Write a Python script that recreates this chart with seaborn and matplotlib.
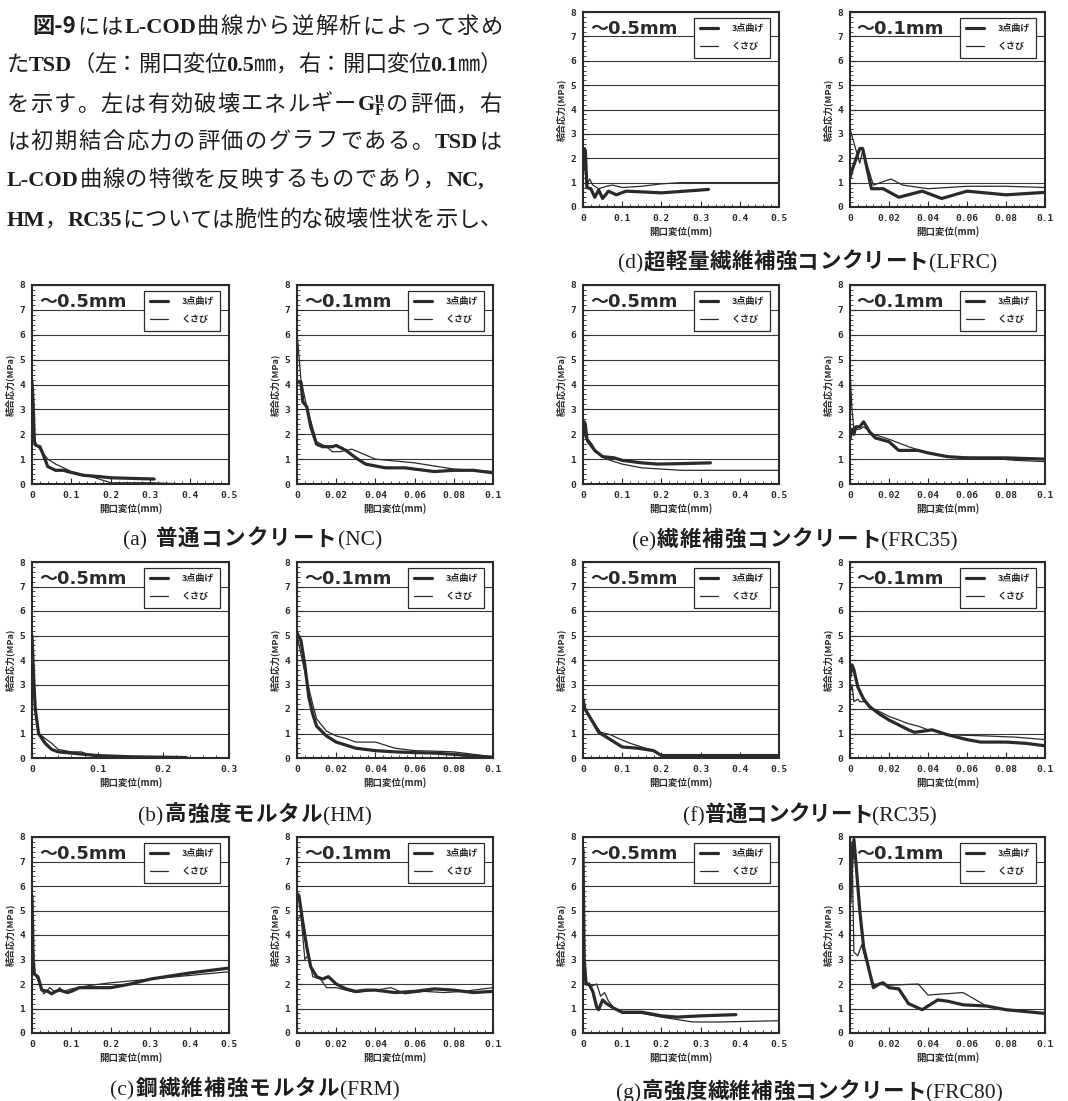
import re
import matplotlib
matplotlib.use('Agg')
import matplotlib.pyplot as plt
import seaborn as sns
from matplotlib.ticker import MultipleLocator, FuncFormatter

# ---- data (x: 開口変位 mm, y: 結合応力 MPa) ----
# (d) LFRC
lfrc05_3pt_x = [0, 0.003, 0.006, 0.01, 0.02, 0.03, 0.04, 0.05, 0.065, 0.085, 0.11, 0.15, 0.2, 0.26, 0.32]
lfrc05_3pt_y = [1.5, 2.4, 2.3, 0.8, 0.75, 0.4, 0.7, 0.35, 0.65, 0.5, 0.65, 0.62, 0.58, 0.65, 0.72]
lfrc05_wdg_x = [0, 0.004, 0.01, 0.017, 0.025, 0.04, 0.06, 0.075, 0.1, 0.15, 0.2, 0.25, 0.5]
lfrc05_wdg_y = [2.4, 1.8, 0.9, 1.15, 0.9, 0.75, 0.85, 0.9, 0.8, 0.85, 0.95, 1.0, 1.0]
lfrc01_3pt_x = [0, 0.001, 0.005, 0.0065, 0.011, 0.017, 0.025, 0.037, 0.047, 0.06, 0.08, 0.1]
lfrc01_3pt_y = [1.2, 1.5, 2.4, 2.4, 0.75, 0.75, 0.4, 0.65, 0.35, 0.65, 0.5, 0.6]
lfrc01_wdg_x = [0, 0.005, 0.0065, 0.012, 0.021, 0.027, 0.04, 0.06, 0.08, 0.1]
lfrc01_wdg_y = [3.2, 1.8, 2.3, 0.9, 1.15, 0.9, 0.75, 0.85, 0.85, 0.8]

# (a) NC
nc05_3pt_x = [0, 0.003, 0.006, 0.01, 0.02, 0.028, 0.04, 0.06, 0.08, 0.09, 0.13, 0.17, 0.2, 0.31]
nc05_3pt_y = [4.1, 3.2, 1.7, 1.55, 1.5, 1.2, 0.7, 0.55, 0.55, 0.5, 0.35, 0.3, 0.25, 0.2]
nc05_wdg_x = [0, 0.005, 0.01, 0.025, 0.04, 0.06, 0.1, 0.15, 0.2, 0.3, 0.4]
nc05_wdg_y = [4.0, 2.0, 1.6, 1.3, 1.0, 0.8, 0.5, 0.3, 0.05, 0.05, 0.0]
nc01_3pt_x = [0, 0.002, 0.003, 0.005, 0.007, 0.01, 0.013, 0.018, 0.02, 0.025, 0.03, 0.035, 0.045, 0.055, 0.07, 0.08, 0.09, 0.1]
nc01_3pt_y = [4.1, 4.1, 3.3, 3.1, 2.3, 1.6, 1.5, 1.5, 1.55, 1.35, 1.05, 0.8, 0.65, 0.65, 0.5, 0.55, 0.55, 0.45]
nc01_wdg_x = [0, 0.002, 0.005, 0.01, 0.015, 0.018, 0.022, 0.028, 0.04, 0.06, 0.08, 0.1]
nc01_wdg_y = [6.1, 4.2, 3.1, 1.7, 1.5, 1.3, 1.3, 1.4, 1.0, 0.85, 0.6, 0.5]

# (e) FRC35
frc35_05_3pt_x = [0, 0.003, 0.006, 0.01, 0.02, 0.03, 0.05, 0.08, 0.1, 0.15, 0.19, 0.25, 0.325]
frc35_05_3pt_y = [1.9, 2.5, 2.4, 1.8, 1.6, 1.35, 1.1, 1.05, 0.95, 0.85, 0.8, 0.82, 0.85]
frc35_05_wdg_x = [0, 0.01, 0.03, 0.06, 0.1, 0.15, 0.2, 0.25, 0.3, 0.5]
frc35_05_wdg_y = [2.3, 1.7, 1.3, 1.0, 0.8, 0.65, 0.6, 0.55, 0.55, 0.55]
frc35_01_3pt_x = [0, 0.001, 0.002, 0.003, 0.005, 0.007, 0.01, 0.013, 0.02, 0.025, 0.035, 0.04, 0.05, 0.06, 0.08, 0.1]
frc35_01_3pt_y = [1.8, 2.2, 2.0, 2.3, 2.3, 2.5, 2.1, 1.85, 1.7, 1.35, 1.35, 1.25, 1.1, 1.05, 1.05, 1.0]
frc35_01_wdg_x = [0, 0.001, 0.002, 0.005, 0.007, 0.012, 0.02, 0.03, 0.04, 0.05, 0.07, 0.085, 0.1]
frc35_01_wdg_y = [4.6, 3.0, 2.2, 2.2, 2.3, 2.0, 1.8, 1.5, 1.25, 1.1, 1.05, 0.95, 0.9]

# (b) HM
hm03_3pt_x = [0, 0.003, 0.005, 0.01, 0.02, 0.03, 0.04, 0.06, 0.08, 0.1, 0.15, 0.235]
hm03_3pt_y = [5.0, 3.0, 2.0, 1.0, 0.6, 0.35, 0.25, 0.2, 0.15, 0.1, 0.05, 0.02]
hm03_wdg_x = [0, 0.005, 0.01, 0.02, 0.025, 0.03, 0.04, 0.06, 0.075, 0.09, 0.1, 0.2, 0.24]
hm03_wdg_y = [5.1, 2.1, 1.0, 0.8, 0.7, 0.6, 0.35, 0.25, 0.25, 0.1, 0.05, 0.02, 0.0]
hm01_3pt_x = [0, 0.002, 0.004, 0.006, 0.008, 0.01, 0.015, 0.02, 0.03, 0.04, 0.05, 0.06, 0.07, 0.08, 0.09, 0.1]
hm01_3pt_y = [5.1, 4.8, 3.8, 2.5, 1.8, 1.3, 0.9, 0.65, 0.4, 0.3, 0.25, 0.22, 0.2, 0.15, 0.08, 0.03]
hm01_wdg_x = [0, 0.004, 0.008, 0.01, 0.015, 0.02, 0.025, 0.03, 0.04, 0.05, 0.06, 0.07, 0.08, 0.09, 0.1]
hm01_wdg_y = [5.0, 3.5, 2.2, 1.6, 1.1, 0.9, 0.8, 0.65, 0.65, 0.4, 0.3, 0.28, 0.25, 0.15, 0.05]

# (f) RC35
rc35_05_3pt_x = [0, 0.005, 0.02, 0.04, 0.06, 0.08, 0.1, 0.14, 0.18, 0.2, 0.3, 0.4, 0.5]
rc35_05_3pt_y = [2.4, 2.0, 1.6, 1.05, 0.85, 0.65, 0.45, 0.4, 0.3, 0.1, 0.1, 0.1, 0.1]
rc35_05_wdg_x = [0, 0.01, 0.03, 0.045, 0.07, 0.09, 0.12, 0.15, 0.18, 0.2, 0.5]
rc35_05_wdg_y = [2.2, 1.9, 1.4, 1.05, 0.95, 0.8, 0.6, 0.45, 0.3, 0.12, 0.12]
rc35_01_3pt_x = [0, 0.001, 0.002, 0.004, 0.007, 0.01, 0.015, 0.02, 0.025, 0.03, 0.033, 0.038, 0.042, 0.05, 0.06, 0.067, 0.08, 0.09, 0.1]
rc35_01_3pt_y = [3.3, 3.8, 3.6, 2.9, 2.4, 2.1, 1.8, 1.55, 1.35, 1.15, 1.05, 1.1, 1.15, 0.95, 0.75, 0.65, 0.65, 0.6, 0.5]
rc35_01_wdg_x = [0, 0.001, 0.002, 0.004, 0.005, 0.008, 0.01, 0.015, 0.02, 0.03, 0.035, 0.04, 0.045, 0.05, 0.07, 0.085, 0.1]
rc35_01_wdg_y = [2.6, 3.0, 2.3, 2.4, 2.3, 2.3, 2.05, 1.9, 1.7, 1.4, 1.3, 1.15, 1.1, 0.95, 0.9, 0.85, 0.75]

# (c) FRM
frm05_3pt_x = [0, 0.003, 0.006, 0.015, 0.025, 0.04, 0.05, 0.06, 0.07, 0.09, 0.1, 0.12, 0.15, 0.2, 0.25, 0.3, 0.4, 0.5]
frm05_3pt_y = [5.6, 3.0, 2.4, 2.3, 1.75, 1.7, 1.6, 1.7, 1.75, 1.65, 1.7, 1.85, 1.85, 1.85, 2.0, 2.2, 2.45, 2.65]
frm05_wdg_x = [0, 0.005, 0.02, 0.03, 0.045, 0.06, 0.07, 0.08, 0.1, 0.15, 0.2, 0.3, 0.4, 0.5]
frm05_wdg_y = [5.5, 2.5, 2.0, 1.6, 1.85, 1.65, 1.85, 1.7, 1.8, 1.95, 2.05, 2.2, 2.35, 2.5]
frm01_3pt_x = [0, 0.001, 0.003, 0.005, 0.007, 0.01, 0.013, 0.016, 0.02, 0.025, 0.03, 0.035, 0.04, 0.045, 0.05, 0.06, 0.07, 0.08, 0.09, 0.1]
frm01_3pt_y = [5.7, 5.6, 4.5, 3.5, 2.7, 2.3, 2.2, 2.3, 2.0, 1.8, 1.7, 1.75, 1.75, 1.7, 1.65, 1.7, 1.8, 1.75, 1.65, 1.7]
frm01_wdg_x = [0, 0.002, 0.004, 0.006, 0.008, 0.012, 0.015, 0.02, 0.025, 0.03, 0.04, 0.048, 0.055, 0.065, 0.075, 0.085, 0.095, 0.1]
frm01_wdg_y = [4.6, 4.8, 3.0, 3.2, 2.3, 2.2, 1.85, 1.85, 1.75, 1.65, 1.75, 1.85, 1.6, 1.7, 1.65, 1.7, 1.8, 1.85]

# (g) FRC80
frc80_05_3pt_x = [0, 0.003, 0.008, 0.015, 0.025, 0.035, 0.04, 0.05, 0.06, 0.08, 0.1, 0.15, 0.2, 0.24, 0.3, 0.39]
frc80_05_3pt_y = [7.5, 3.0, 2.0, 2.0, 1.7, 1.05, 0.95, 1.35, 1.2, 1.0, 0.85, 0.85, 0.7, 0.65, 0.7, 0.75]
frc80_05_wdg_x = [0, 0.005, 0.02, 0.035, 0.045, 0.055, 0.065, 0.08, 0.1, 0.15, 0.2, 0.28, 0.35, 0.5]
frc80_05_wdg_y = [7.0, 2.0, 1.9, 2.0, 1.5, 1.65, 1.3, 1.0, 0.8, 0.8, 0.65, 0.45, 0.45, 0.5]
frc80_01_3pt_x = [0, 0.001, 0.002, 0.003, 0.005, 0.007, 0.01, 0.012, 0.015, 0.017, 0.02, 0.025, 0.03, 0.037, 0.045, 0.05, 0.058, 0.07, 0.08, 0.1]
frc80_01_3pt_y = [5.3, 7.0, 7.9, 7.0, 5.0, 3.5, 2.5, 1.85, 2.0, 2.05, 1.85, 1.8, 1.2, 0.95, 1.35, 1.3, 1.15, 1.1, 0.95, 0.8]
frc80_01_wdg_x = [0, 0.001, 0.002, 0.004, 0.006, 0.008, 0.012, 0.02, 0.035, 0.04, 0.058, 0.07, 0.08, 0.1]
frc80_01_wdg_y = [6.0, 7.8, 3.3, 3.15, 3.6, 3.0, 2.0, 1.95, 2.0, 1.55, 1.65, 1.1, 0.95, 0.8]

series_labels = ['3点曲げ', 'くさび']

paragraph = [
    [('図-9', 'head'), ('にはL-COD曲線から逆解析によって求め', 'body')],
    [('たTSD（左：開口変位0.5㎜，右：開口変位0.1㎜）', 'body')],
    [('を示す。左は有効破壊エネルギー$\\mathregular{G_F^u}$の評価，右', 'body')],
    [('は初期結合応力の評価のグラフである。TSDは', 'body')],
    [('L-COD曲線の特徴を反映するものであり，NC,', 'body')],
    [('HM，RC35については脆性的な破壊性状を示し、', 'body')],
]

captions = ['(d)超軽量繊維補強コンクリート(LFRC)', '(a) 普通コンクリート(NC)',
            '(e)繊維補強コンクリート(FRC35)', '(b)高強度モルタル(HM)',
            '(f)普通コンクリート(RC35)', '(c)鋼繊維補強モルタル(FRM)',
            '(g)高強度繊維補強コンクリート(FRC80)']

# ---- style ----
sns.set_style('white')
plt.rcParams['font.family'] = ['Noto Sans CJK JP', 'DejaVu Sans']
plt.rcParams['axes.unicode_minus'] = False

INK = '#2a2a2a'
JP = ['Noto Sans CJK JP', 'DejaVu Sans']
SERIF = ['Liberation Serif', 'Noto Sans CJK JP']
TAG_FONT = ['DejaVu Sans', 'Noto Sans CJK JP']
W, H = 1068, 1101

fig = plt.figure(figsize=(W / 100, H / 100), dpi=100)
fig.patch.set_facecolor('white')
renderer = fig.canvas.get_renderer()


def add_ax(x, top, w, h):
    return fig.add_axes([x / W, 1 - (top + h) / H, w / W, h / H])


def xfmt(v, pos):
    return '0' if abs(v) < 1e-9 else f'{v:.2f}'.rstrip('0')


def draw_panel(ax, xmax, tag, x3, y3, xw, yw):
    sns.lineplot(x=x3, y=y3, ax=ax, color=INK, lw=2.3, sort=False, estimator=None, label=series_labels[0])
    sns.lineplot(x=xw, y=yw, ax=ax, color=INK, lw=0.9, sort=False, estimator=None, label=series_labels[1])
    ax.set_xlim(0, xmax)
    ax.set_ylim(0, 8)
    ax.xaxis.set_major_locator(MultipleLocator(0.1 if xmax > 0.1 else 0.02))
    ax.xaxis.set_minor_locator(MultipleLocator(0.02 if xmax > 0.1 else 0.004))
    ax.xaxis.set_major_formatter(FuncFormatter(xfmt))
    ax.yaxis.set_major_locator(MultipleLocator(1))
    ax.yaxis.set_minor_locator(MultipleLocator(0.2))
    ax.grid(axis='y', color='#3a3a3a', lw=0.8)
    ax.tick_params(which='both', direction='in', color=INK, bottom=True, left=True)
    ax.tick_params(which='major', length=4, width=0.8, labelsize=6.8, pad=5, labelcolor=INK)
    ax.tick_params(which='minor', length=2, width=0.6)
    for lab in ax.get_xticklabels() + ax.get_yticklabels():
        lab.set_fontfamily('DejaVu Sans Mono')
        lab.set_fontweight('bold')
    for s in ax.spines.values():
        s.set_visible(True)
        s.set_linewidth(1.5)
        s.set_color(INK)
    ax.set_ylabel('結合応力(MPa)', fontsize=6.5, fontweight='bold', labelpad=3, color=INK)
    ax.set_xlabel('開口変位(mm)', fontsize=6.8, fontweight='bold', labelpad=2, color=INK)
    ax.text(0.035, 0.915, tag, transform=ax.transAxes, ha='left', va='center', fontsize=13,
            fontweight='bold', family=TAG_FONT, color=INK)
    h, l = ax.get_legend_handles_labels()
    leg = ax.legend(h, l, loc='upper right', bbox_to_anchor=(0.955, 0.97), fancybox=False, framealpha=1,
                    edgecolor=INK, borderpad=0.7, labelspacing=1.0, handlelength=2.0, handletextpad=1.5,
                    borderaxespad=0, prop={'family': JP, 'size': 6.5, 'weight': 'bold'})
    leg.get_frame().set_linewidth(0.9)


def split_tokens(s):
    return re.findall(r'\$[^$]*\$|[A-Za-z0-9.\-(),]+|.', s)


def put_justified(parts, x0, x1, y_base, size, jp_weight, latin_weight):
    arts = []
    for s, kind in parts:
        toks = [s] if kind == 'head' else split_tokens(s)
        for tok in toks:
            if kind == 'head':
                kw = dict(family=JP, fontweight='bold')
            elif tok.isascii():
                kw = dict(family=SERIF, fontweight=latin_weight)
            else:
                kw = dict(family=JP, fontweight=jp_weight)
            arts.append(fig.text(0, 1 - y_base / H, tok, fontsize=size, va='baseline', ha='left',
                                 color='#1e1e1e', **kw))
    widths = [t.get_window_extent(renderer).width for t in arts]
    gap = (x1 - x0 - sum(widths)) / max(len(arts) - 1, 1)
    x = x0
    for t, w in zip(arts, widths):
        t.set_x(x / W)
        x += w + gap


# ---- paragraph (upper left) ----
para_spans = [(32, 502), (7, 502), (7, 502), (7, 502), (7, 484), (7, 502)]
para_base = [33, 71, 111, 148, 186, 226]
for parts, (x0, x1), yb in zip(paragraph, para_spans, para_base):
    put_justified(parts, x0, x1, yb, 16, 'normal', 'bold')

# ---- panels ----
cols = {'L1': (32, 197), 'L2': (297, 196), 'R1': (583, 196), 'R2': (850, 195)}
rows = [(12, 195), (285, 199), (562, 196), (837, 196)]
panels = [
    ('R', 0, 0.5, lfrc05_3pt_x, lfrc05_3pt_y, lfrc05_wdg_x, lfrc05_wdg_y,
     lfrc01_3pt_x, lfrc01_3pt_y, lfrc01_wdg_x, lfrc01_wdg_y),
    ('L', 1, 0.5, nc05_3pt_x, nc05_3pt_y, nc05_wdg_x, nc05_wdg_y,
     nc01_3pt_x, nc01_3pt_y, nc01_wdg_x, nc01_wdg_y),
    ('R', 1, 0.5, frc35_05_3pt_x, frc35_05_3pt_y, frc35_05_wdg_x, frc35_05_wdg_y,
     frc35_01_3pt_x, frc35_01_3pt_y, frc35_01_wdg_x, frc35_01_wdg_y),
    ('L', 2, 0.3, hm03_3pt_x, hm03_3pt_y, hm03_wdg_x, hm03_wdg_y,
     hm01_3pt_x, hm01_3pt_y, hm01_wdg_x, hm01_wdg_y),
    ('R', 2, 0.5, rc35_05_3pt_x, rc35_05_3pt_y, rc35_05_wdg_x, rc35_05_wdg_y,
     rc35_01_3pt_x, rc35_01_3pt_y, rc35_01_wdg_x, rc35_01_wdg_y),
    ('L', 3, 0.5, frm05_3pt_x, frm05_3pt_y, frm05_wdg_x, frm05_wdg_y,
     frm01_3pt_x, frm01_3pt_y, frm01_wdg_x, frm01_wdg_y),
    ('R', 3, 0.5, frc80_05_3pt_x, frc80_05_3pt_y, frc80_05_wdg_x, frc80_05_wdg_y,
     frc80_01_3pt_x, frc80_01_3pt_y, frc80_01_wdg_x, frc80_01_wdg_y),
]
for side, r, xmax_left, *d in panels:
    top, h = rows[r]
    xl, wl = cols[side + '1']
    xr, wr = cols[side + '2']
    draw_panel(add_ax(xl, top, wl, h), xmax_left, '～0.5mm', *d[:4])
    draw_panel(add_ax(xr, top, wr, h), 0.1, '～0.1mm', *d[4:])

# ---- captions ----
cap_spans = [(618, 997, 268), (123, 382, 545), (632, 958, 546), (138, 372, 821),
             (683, 937, 821), (110, 400, 1095), (616, 1003, 1098)]
for text, (x0, x1, yb) in zip(captions, cap_spans):
    put_justified([(text, 'body')], x0, x1, yb, 15.5, 'bold', 'normal')

fig.savefig('out.png', dpi=100, facecolor='white')
